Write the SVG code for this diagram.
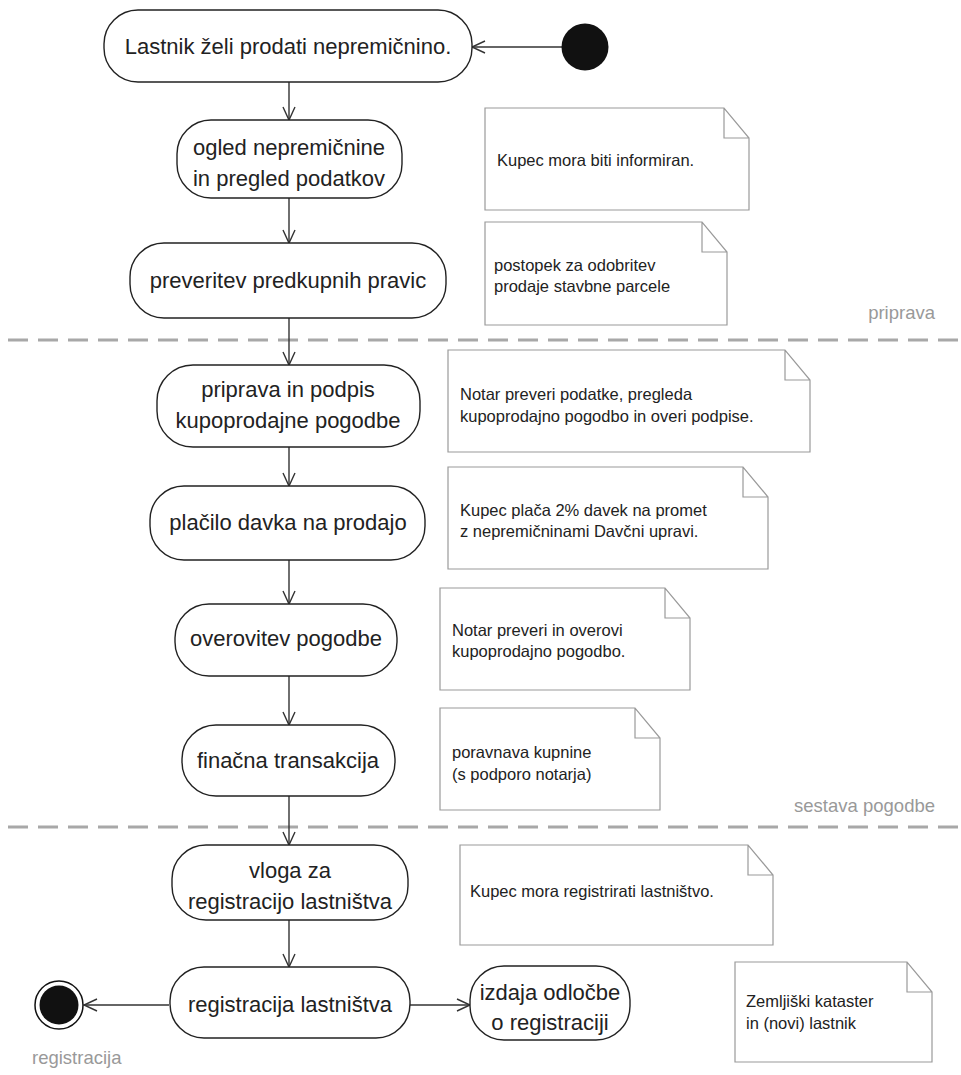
<svg xmlns="http://www.w3.org/2000/svg" width="961" height="1075" viewBox="0 0 961 1075">
<style>
.act{fill:#fff;stroke:#222;stroke-width:1.4}
.at{font-family:"Liberation Sans",Arial,sans-serif;font-size:22px;fill:#222;text-anchor:middle}
.note{fill:#fff;stroke:#9a9a9a;stroke-width:1.2}
.nt{font-family:"Liberation Sans",Arial,sans-serif;font-size:16.5px;fill:#222}
.lbl{font-family:"Liberation Sans",Arial,sans-serif;font-size:18.5px;fill:#999}
.edge{stroke:#333;stroke-width:1.4;fill:none;marker-end:url(#arr)}
.sep{stroke:#a8a8a8;stroke-width:3;stroke-dasharray:20 10;fill:none}
</style>
<defs>
<marker id="arr" markerUnits="userSpaceOnUse" markerWidth="16" markerHeight="16" viewBox="0 0 16 16" refX="14" refY="7" orient="auto">
<path d="M1,1 L14,7 L1,13" fill="none" stroke="#333" stroke-width="1.4"/>
</marker>
</defs>
<g id="separators">
<line class="sep" x1="8" y1="340" x2="961" y2="340"/>
<line class="sep" x1="8" y1="827" x2="961" y2="827"/>
</g>
<g id="lane-labels">
<text class="lbl" x="935" y="319" text-anchor="end">priprava</text>
<text class="lbl" x="935" y="812" text-anchor="end">sestava pogodbe</text>
<text class="lbl" x="32" y="1064">registracija</text>
</g>
<g id="connectors">
<line class="edge" x1="562" y1="47" x2="472" y2="47"/>
<line class="edge" x1="289" y1="82" x2="289" y2="120"/>
<line class="edge" x1="289" y1="198" x2="289" y2="243"/>
<line class="edge" x1="289" y1="318" x2="289" y2="365"/>
<line class="edge" x1="289" y1="447" x2="289" y2="486"/>
<line class="edge" x1="289" y1="560" x2="289" y2="604"/>
<line class="edge" x1="289" y1="676" x2="289" y2="725"/>
<line class="edge" x1="289" y1="796" x2="289" y2="845"/>
<line class="edge" x1="289" y1="920" x2="289" y2="967"/>
<line class="edge" x1="169" y1="1005" x2="84" y2="1005"/>
<line class="edge" x1="409" y1="1005" x2="470" y2="1005"/>
</g>
<g id="start"><circle cx="585" cy="47" r="23.5" fill="#111"/></g>
<g id="end">
<circle cx="59" cy="1005" r="24" fill="#fff" stroke="#111" stroke-width="1.5"/>
<circle cx="59" cy="1005" r="19.5" fill="#111"/>
</g>
<g id="a1"><rect class="act" x="104" y="10" width="368" height="72" rx="34"/><text class="at" x="288" y="54">Lastnik želi prodati nepremičnino.</text></g>
<g id="a2"><rect class="act" x="177" y="120" width="225" height="78" rx="34"/><text class="at" x="289" y="155">ogled nepremičnine</text><text class="at" x="289" y="186">in pregled podatkov</text></g>
<g id="a3"><rect class="act" x="130" y="243" width="316" height="75" rx="34"/><text class="at" x="288" y="288">preveritev predkupnih pravic</text></g>
<g id="a4"><rect class="act" x="157" y="365" width="263" height="82" rx="36"/><text class="at" x="288" y="397">priprava in podpis</text><text class="at" x="288" y="428">kupoprodajne pogodbe</text></g>
<g id="a5"><rect class="act" x="150" y="486" width="275" height="74" rx="34"/><text class="at" x="288" y="530">plačilo davka na prodajo</text></g>
<g id="a6"><rect class="act" x="175" y="604" width="222" height="72" rx="34"/><text class="at" x="286" y="646">overovitev pogodbe</text></g>
<g id="a7"><rect class="act" x="182" y="725" width="213" height="71" rx="34"/><text class="at" x="288" y="768">finačna transakcija</text></g>
<g id="a8"><rect class="act" x="172" y="845" width="236" height="75" rx="34"/><text class="at" x="290" y="878">vloga za</text><text class="at" x="290" y="909">registracijo lastništva</text></g>
<g id="a9"><rect class="act" x="170" y="967" width="240" height="71" rx="34"/><text class="at" x="290" y="1012">registracija lastništva</text></g>
<g id="a10"><rect class="act" x="470" y="966" width="160" height="74" rx="34"/><text class="at" x="550" y="1000">izdaja odločbe</text><text class="at" x="550" y="1030">o registraciji</text></g>
<g id="n1"><path class="note" d="M485,108 H724 L749,138 V210 H485 Z M724,108 V138 H749"/><text class="nt" x="497" y="166">Kupec mora biti informiran.</text></g>
<g id="n2"><path class="note" d="M485,222 H702 L727,252 V325 H485 Z M702,222 V252 H727"/><text class="nt" x="494" y="271">postopek za odobritev</text><text class="nt" x="494" y="292">prodaje stavbne parcele</text></g>
<g id="n3"><path class="note" d="M448,350 H785 L810,380 V452 H448 Z M785,350 V380 H810"/><text class="nt" x="460" y="400">Notar preveri podatke, pregleda</text><text class="nt" x="460" y="422">kupoprodajno pogodbo in overi podpise.</text></g>
<g id="n4"><path class="note" d="M448,467 H743 L768,497 V569 H448 Z M743,467 V497 H768"/><text class="nt" x="460" y="516">Kupec plača 2% davek na promet</text><text class="nt" x="460" y="537">z nepremičninami Davčni upravi.</text></g>
<g id="n5"><path class="note" d="M440,588 H665 L690,618 V690 H440 Z M665,588 V618 H690"/><text class="nt" x="452" y="636">Notar preveri in overovi</text><text class="nt" x="452" y="657">kupoprodajno pogodbo.</text></g>
<g id="n6"><path class="note" d="M440,708 H635 L660,738 V810 H440 Z M635,708 V738 H660"/><text class="nt" x="452" y="758">poravnava kupnine</text><text class="nt" x="452" y="780">(s podporo notarja)</text></g>
<g id="n7"><path class="note" d="M460,845 H748 L773,875 V945 H460 Z M748,845 V875 H773"/><text class="nt" x="470" y="897">Kupec mora registrirati lastništvo.</text></g>
<g id="n8"><path class="note" d="M735,962 H907 L932,992 V1062 H735 Z M907,962 V992 H932"/><text class="nt" x="746" y="1007">Zemljiški kataster</text><text class="nt" x="746" y="1029">in (novi) lastnik</text></g>
</svg>
